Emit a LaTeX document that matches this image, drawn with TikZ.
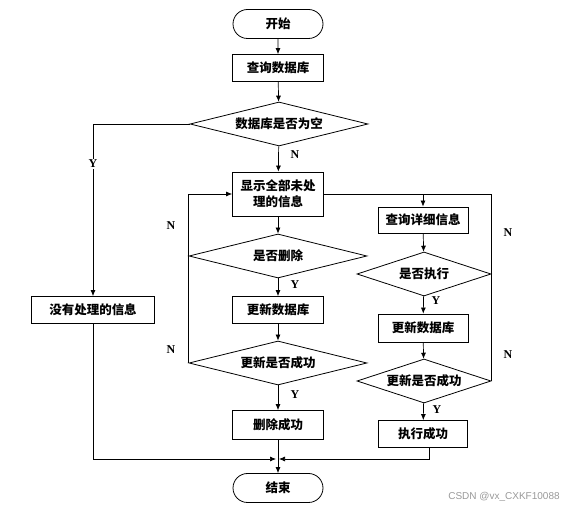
\documentclass[tikz,border=0pt]{standalone}
\usepackage{fontspec}
\setmainfont{Liberation Serif}
\newfontfamily\cjk{Noto Sans CJK SC}
\newfontfamily\wmfont{Liberation Sans}
\usetikzlibrary{shapes.geometric,shapes.misc,arrows.meta,calc}
\tikzset{
  base/.style={draw=black, line width=0.8pt, font=\cjk\bfseries\fontsize{12.5}{15}\selectfont, inner sep=0pt, align=center},
  proc/.style={base, rectangle, minimum width=91pt, minimum height=27pt},
  term/.style={base, rounded rectangle, minimum width=90pt, minimum height=29pt},
  dec/.style={base, diamond, aspect=3, minimum width=178pt, minimum height=44pt},
  decs/.style={base, diamond, aspect=3, minimum width=134pt, minimum height=44pt},
  conn/.style={draw=black, line width=0.7pt},
  arr/.style={conn, -{Latex[length=6pt,width=5pt]}},
  lab/.style={font=\bfseries\fontsize{12}{14}\selectfont, inner sep=1pt},
}
\begin{document}
\begin{tikzpicture}[x=1pt,y=-1pt]
\useasboundingbox (0,0) rectangle (566,510);
% left/main column
\node[term] (start) at (278,24) {开始};
\node[proc] (q1) at (278,68) {查询数据库};
\node[dec] (d1) at (279,124) {数据库是否为空};
\node[proc, minimum height=44pt] (show) at (278,194) {显示全部未处\\[1pt]理的信息};
\node[dec] (d2) at (278,256) {是否删除};
\node[proc] (upd1) at (278,310) {更新数据库};
\node[dec] (d3) at (278,363) {更新是否成功};
\node[proc, minimum height=29pt] (del) at (278,425) {删除成功};
\node[term] (end) at (278,488) {结束};
\node[proc, minimum width=123pt] (none) at (93,310) {没有处理的信息};
% right column
\node[proc, minimum width=90pt, minimum height=26pt] (q2) at (423,220) {查询详细信息};
\node[decs] (d4) at (424,274) {是否执行};
\node[proc, minimum width=90pt, minimum height=28pt] (upd2) at (423,328) {更新数据库};
\node[decs] (d5) at (424,381) {更新是否成功};
\node[proc, minimum width=89pt] (ok2) at (423,434) {执行成功};
\coordinate (J) at (278,459);
% main connectors
\draw[arr] (start) -- (q1);
\draw[arr] (q1) -- (d1);
\draw[arr] (d1) -- (show);
\draw[arr] (d1.west) -| (none.north);
\draw[arr] (show) -- (d2);
\draw[arr] (d2) -- (upd1);
\draw[arr] (upd1) -- (d3);
\draw[arr] (d3) -- (del);
\draw[arr] (del) -- (end);
\draw[arr, shorten >=2pt] (none.south) |- (J);
\draw[arr, shorten >=1pt] ($(ok2.south)+(6,0)$) |- (J);
% left loop
\draw[arr] (d2.west) |- (show.west);
\draw[conn] (d3.west) -- (d2.west);
% right branch
\draw[arr] (show.east) -| (q2.north);
\draw[arr] (q2) -- (d4);
\draw[arr] (d4) -- (upd2);
\draw[arr] (upd2) -- (d5);
\draw[arr] (d5) -- (ok2);
\draw[conn] (d5.east) -- (d4.east) -- (d4.east |- show.east) -- (q2.north |- show.east);
% labels
\node[lab, fill=white] (ly1) at (93,164) {Y};
\node[lab] (ln1) at (295,155) {N};
\node[lab] (ly2) at (295,285) {Y};
\node[lab] (ly3) at (295,395) {Y};
\node[lab] (ln2) at (171,226) {N};
\node[lab] (ln3) at (171,350) {N};
\node[lab] (ly4) at (436,301) {Y};
\node[lab] (ly5) at (437,410) {Y};
\node[lab] (ln4) at (508,233) {N};
\node[lab] (ln5) at (508,355) {N};
\node[font=\wmfont\fontsize{10}{12}\selectfont, text=black!40] (wm) at (504,497) {CSDN @vx\_CXKF10088};
\end{tikzpicture}
\end{document}
